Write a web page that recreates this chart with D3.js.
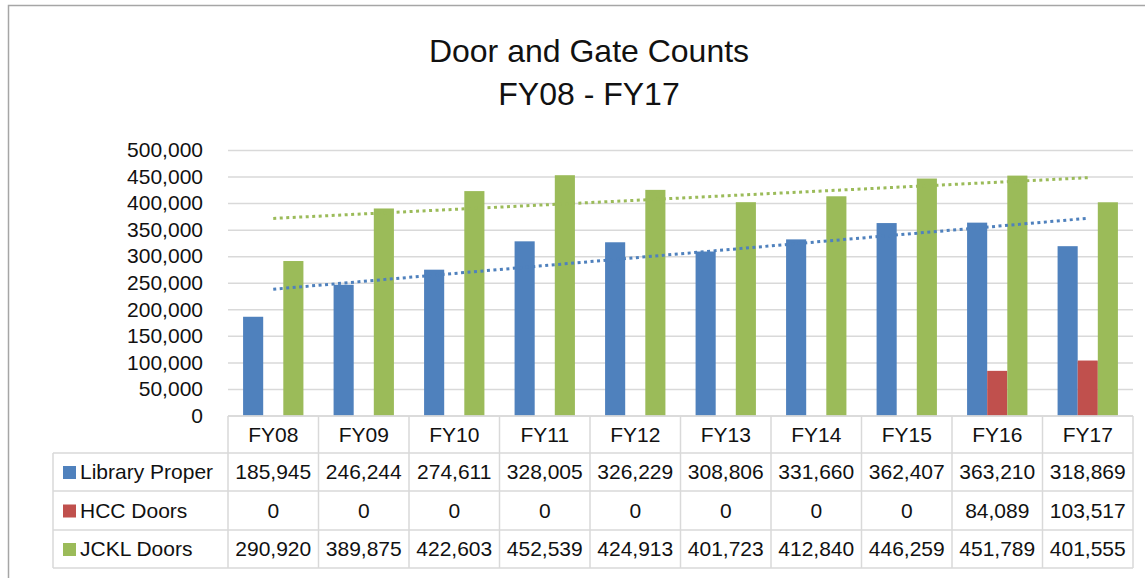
<!DOCTYPE html>
<html>
<head>
<meta charset="utf-8">
<script src="https://cdn.jsdelivr.net/npm/d3@7"></script>
<style>
  body { margin: 0; background: #fff; }
  text { font-family: "Liberation Sans", Arial, sans-serif; fill: #111; }
</style>
</head>
<body>
<div id="graph"></div>
<script>
// dados do grafico
const categories = ["FY08", "FY09", "FY10", "FY11", "FY12", "FY13", "FY14", "FY15", "FY16", "FY17"];
const seriesNames = ["Library Proper", "HCC Doors", "JCKL Doors"];
const libraryProper = [185945, 246244, 274611, 328005, 326229, 308806, 331660, 362407, 363210, 318869];
const hccDoors = [0, 0, 0, 0, 0, 0, 0, 0, 84089, 103517];
const jcklDoors = [290920, 389875, 422603, 452539, 424913, 401723, 412840, 446259, 451789, 401555];
const yTicks = [0, 50000, 100000, 150000, 200000, 250000, 300000, 350000, 400000, 450000, 500000];
const colors = ["#4F81BD", "#C0504D", "#9BBB59"];

const width = 1145, height = 578;
const plot = { left: 228, right: 1133, top: 150, bottom: 415.5 };
const rowY = [416, 453, 491, 530, 568]; // linhas da tabela

const svg = d3.select("#graph").append("svg")
  .attr("width", width)
  .attr("height", height);

// borda externa
svg.append("rect")
  .attr("x", 8.5).attr("y", 5.5)
  .attr("width", 1150).attr("height", 600)
  .attr("fill", "#fff")
  .attr("stroke", "#a6a6a6")
  .attr("stroke-width", 1.5);

// titulo
svg.append("text")
  .attr("x", 589).attr("y", 62)
  .attr("text-anchor", "middle")
  .attr("font-size", "32px")
  .text("Door and Gate Counts");
svg.append("text")
  .attr("x", 589).attr("y", 105)
  .attr("text-anchor", "middle")
  .attr("font-size", "32px")
  .text("FY08 - FY17");

const x0 = d3.scaleBand()
  .domain(categories)
  .range([plot.left, plot.right]);

const x1 = d3.scaleBand()
  .domain(seriesNames)
  .range([0, x0.bandwidth()])
  .paddingInner(0)
  .paddingOuter(0.75);

const y = d3.scaleLinear()
  .domain([0, 500000])
  .range([plot.bottom, plot.top]);

// grade horizontal
const yAxis = svg.append("g")
  .attr("transform", `translate(${plot.left}, 0)`)
  .call(d3.axisLeft(y)
    .tickValues(yTicks)
    .tickSize(-(plot.right - plot.left))
    .tickPadding(25)
    .tickFormat(d3.format(",")));
yAxis.select(".domain").remove();
yAxis.selectAll(".tick line")
  .attr("stroke", "#d9d9d9")
  .attr("stroke-width", 1.5);
yAxis.selectAll(".tick text")
  .attr("font-size", "21px")
  .attr("font-family", "Liberation Sans, Arial, sans-serif")
  .attr("fill", "#111");

// barras
const seriesData = [libraryProper, hccDoors, jcklDoors];
seriesNames.forEach((name, s) => {
  svg.append("g")
    .selectAll("rect")
    .data(categories.filter((c, i) => seriesData[s][i] > 0))
    .join("rect")
    .attr("x", c => x0(c) + x1(name))
    .attr("y", c => y(seriesData[s][categories.indexOf(c)]))
    .attr("width", x1.bandwidth())
    .attr("height", c => plot.bottom - y(seriesData[s][categories.indexOf(c)]))
    .attr("fill", colors[s]);
});

// linhas de tendencia (regressao linear, como no Excel)
function trend(vals) {
  const n = vals.length;
  const xs = d3.range(1, n + 1);
  const mx = d3.mean(xs), my = d3.mean(vals);
  const b = d3.sum(xs, (xv, i) => (xv - mx) * (vals[i] - my)) / d3.sum(xs, xv => (xv - mx) ** 2);
  const a = my - b * mx;
  return [[categories[0], a + b * 1], [categories[n - 1], a + b * n]];
}

const line = d3.line()
  .x(d => x0(d[0]) + x0.bandwidth() / 2)
  .y(d => y(d[1]));

[[jcklDoors, colors[2]], [libraryProper, colors[0]]].forEach(([vals, col]) => {
  svg.append("path")
    .datum(trend(vals))
    .attr("d", line)
    .attr("fill", "none")
    .attr("stroke", col)
    .attr("stroke-width", 3)
    .attr("stroke-dasharray", "3,3.5");
});

// tabela de dados
const grid = svg.append("g").attr("stroke", "#d9d9d9").attr("stroke-width", 1.5);
grid.append("line")
  .attr("x1", plot.left).attr("x2", plot.right)
  .attr("y1", rowY[0]).attr("y2", rowY[0]);
rowY.slice(1).forEach(ry => {
  grid.append("line")
    .attr("x1", 53).attr("x2", plot.right)
    .attr("y1", ry).attr("y2", ry);
});
grid.append("line")
  .attr("x1", 53).attr("x2", 53)
  .attr("y1", rowY[1]).attr("y2", rowY[4]);
categories.concat(["end"]).forEach((c, i) => {
  const xx = i < categories.length ? x0(c) : plot.right;
  grid.append("line")
    .attr("x1", xx).attr("x2", xx)
    .attr("y1", rowY[0]).attr("y2", rowY[4]);
});

// cabecalho
svg.append("g")
  .selectAll("text")
  .data(categories)
  .join("text")
  .attr("x", c => x0(c) + x0.bandwidth() / 2)
  .attr("y", (rowY[0] + rowY[1]) / 2 + 7)
  .attr("text-anchor", "middle")
  .attr("font-size", "21px")
  .text(c => c);

// linhas da tabela com legenda
const fmt = d3.format(",");
seriesNames.forEach((name, s) => {
  const cy = (rowY[s + 1] + rowY[s + 2]) / 2;
  svg.append("rect")
    .attr("x", 63).attr("y", cy - 6)
    .attr("width", 13).attr("height", 13)
    .attr("fill", colors[s]);
  svg.append("text")
    .attr("x", 80).attr("y", cy + 7)
    .attr("font-size", "21px")
    .text(name);
  svg.append("g")
    .selectAll("text")
    .data(seriesData[s])
    .join("text")
    .attr("x", (d, i) => x0(categories[i]) + x0.bandwidth() / 2)
    .attr("y", cy + 7)
    .attr("text-anchor", "middle")
    .attr("font-size", "21px")
    .text(d => fmt(d));
});
</script>
</body>
</html>
